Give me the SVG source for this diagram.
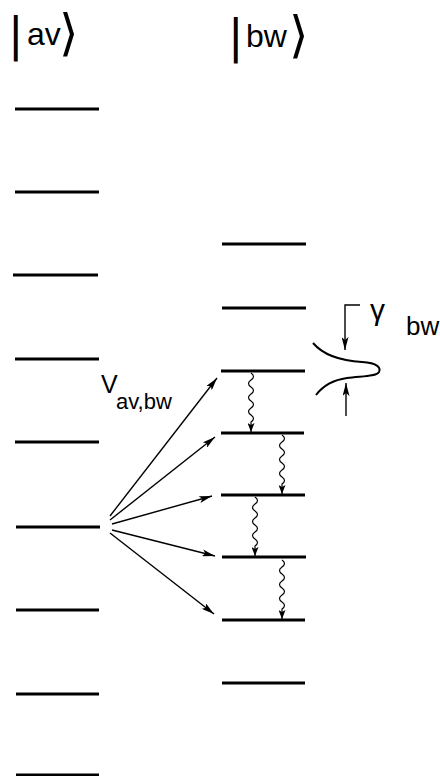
<svg xmlns="http://www.w3.org/2000/svg" width="440" height="776" viewBox="0 0 440 776">
<style>
.lvl{stroke:#000;stroke-width:3;stroke-linecap:butt}
.arr{stroke:#000;stroke-width:1.4;fill:none}
.wav{stroke:#000;stroke-width:1.2;fill:none}
.t{font-family:"Liberation Sans","DejaVu Sans",sans-serif;fill:#000}
.br{font-family:"DejaVu Sans","Liberation Sans",sans-serif;fill:#000}
</style>
<defs>
<marker id="ah" viewBox="0 0 13 7" refX="13" refY="3.5" markerWidth="13" markerHeight="7" orient="auto" markerUnits="userSpaceOnUse"><path d="M0,0 L13,3.5 L0,7 L3,3.5 z" fill="#000"/></marker>
<marker id="ws" viewBox="0 0 9 7" refX="9" refY="3.5" markerWidth="9" markerHeight="7" orient="auto" markerUnits="userSpaceOnUse"><path d="M0,0 L9,3.5 L0,7 L2,3.5 z" fill="#000"/></marker>
</defs>
<rect width="440" height="776" fill="#fff"/>
<g id="label-av"><text class="t"><tspan class="br" x="8" y="50" font-size="46">|</tspan><tspan x="27" y="45" font-size="32">av</tspan><tspan class="br" x="59" y="50" font-size="50">⟩</tspan></text></g>
<g id="label-bw"><text class="t"><tspan class="br" x="228" y="52" font-size="46">|</tspan><tspan x="246" y="47" font-size="32">bw</tspan><tspan class="br" x="289" y="52" font-size="50">⟩</tspan></text></g>
<g id="levels-av">
<line class="lvl" x1="15" y1="109" x2="99" y2="109"/>
<line class="lvl" x1="15" y1="192" x2="99" y2="192"/>
<line class="lvl" x1="13" y1="275" x2="98" y2="275"/>
<line class="lvl" x1="15" y1="359" x2="99" y2="359"/>
<line class="lvl" x1="15" y1="442" x2="99" y2="442"/>
<line class="lvl" x1="16" y1="527" x2="100" y2="527"/>
<line class="lvl" x1="16" y1="610" x2="99" y2="610"/>
<line class="lvl" x1="16" y1="694" x2="99" y2="694"/>
<line class="lvl" x1="16" y1="775" x2="99" y2="775"/>
</g>
<g id="levels-bw">
<line class="lvl" x1="222" y1="244" x2="306" y2="244"/>
<line class="lvl" x1="222" y1="308" x2="306" y2="308"/>
<line class="lvl" x1="221" y1="371" x2="305" y2="371"/>
<line class="lvl" x1="221" y1="433" x2="304" y2="433"/>
<line class="lvl" x1="221" y1="495" x2="305" y2="495"/>
<line class="lvl" x1="222" y1="557" x2="306" y2="557"/>
<line class="lvl" x1="222" y1="620" x2="305" y2="620"/>
<line class="lvl" x1="222" y1="683" x2="305" y2="683"/>
</g>
<g id="label-V"><text class="t" font-size="25"><tspan x="101" y="393">V</tspan><tspan x="116" y="409" font-size="22">av,bw</tspan></text></g>
<g id="connectors">
<line class="arr" x1="110" y1="516" x2="217" y2="378" marker-end="url(#ah)"/>
<line class="arr" x1="110" y1="520" x2="215" y2="437" marker-end="url(#ah)"/>
<line class="arr" x1="112" y1="524" x2="212" y2="496" marker-end="url(#ah)"/>
<line class="arr" x1="112" y1="530" x2="215" y2="556" marker-end="url(#ah)"/>
<line class="arr" x1="110" y1="533" x2="214" y2="614" marker-end="url(#ah)"/>
<path class="wav" d="M251,373 q5,3.5 0,7 q-5,3.5 0,7 q5,3.5 0,7 q-5,3.5 0,7 q5,3.5 0,7 q-5,3.5 0,7 q5,3.5 0,7 v10" marker-end="url(#ws)"/>
<path class="wav" d="M282,435 q5,3.5 0,7 q-5,3.5 0,7 q5,3.5 0,7 q-5,3.5 0,7 q5,3.5 0,7 q-5,3.5 0,7 q5,3.5 0,7 v10" marker-end="url(#ws)"/>
<path class="wav" d="M255,497 q5,3.5 0,7 q-5,3.5 0,7 q5,3.5 0,7 q-5,3.5 0,7 q5,3.5 0,7 q-5,3.5 0,7 q5,3.5 0,7 v10" marker-end="url(#ws)"/>
<path class="wav" d="M282,560 q5,3.5 0,7 q-5,3.5 0,7 q5,3.5 0,7 q-5,3.5 0,7 q5,3.5 0,7 q-5,3.5 0,7 q5,3.5 0,7 v10" marker-end="url(#ws)"/>
</g>
<g id="linewidth">
<path d="M313,343 C325,357 345,361 362,362 C378,363 381,368 379,372 C376,377 360,376 347,378 C333,380 322,387 316,395" stroke="#000" stroke-width="2" fill="none"/>
<path class="arr" d="M360,305 H345 V350" marker-end="url(#ah)"/>
<line class="arr" x1="346" y1="416" x2="346" y2="383" marker-end="url(#ah)"/>
<text class="t" font-size="30"><tspan x="370" y="320">γ</tspan><tspan x="406" y="335" font-size="26">bw</tspan></text>
</g>
</svg>
